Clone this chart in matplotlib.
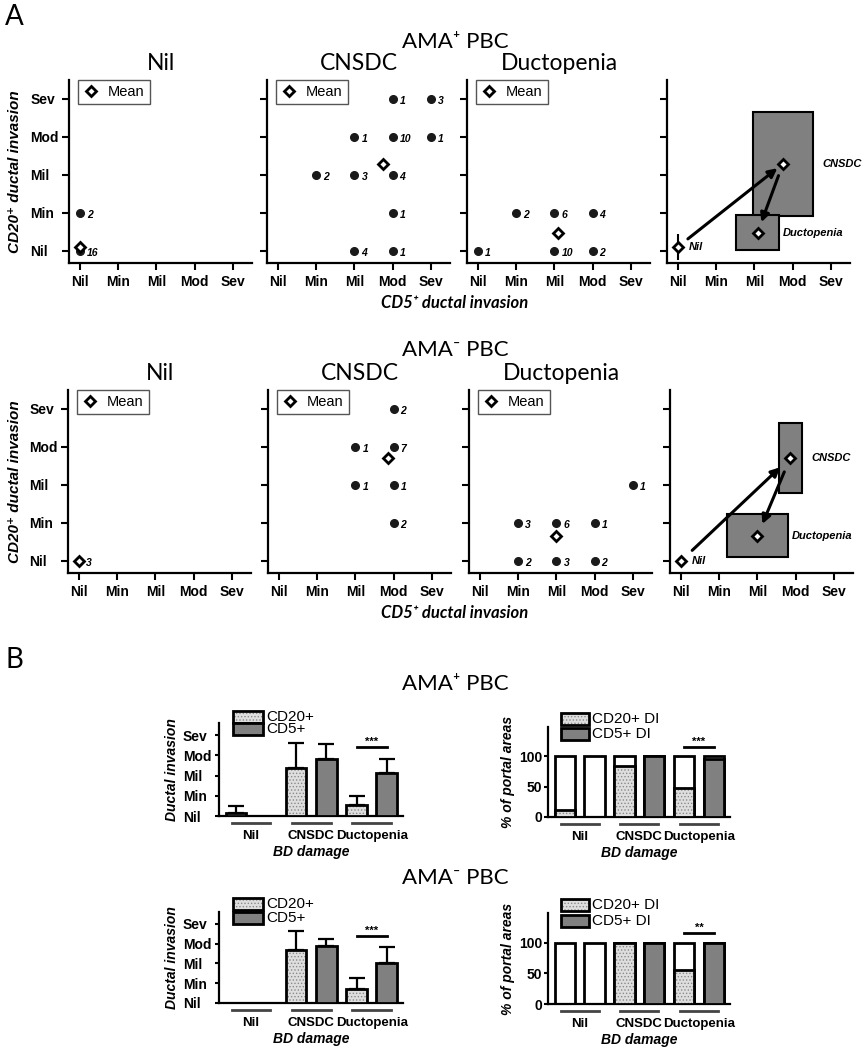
import numpy as np
import matplotlib.pyplot as plt
import matplotlib.transforms as mtransforms
from matplotlib.patches import Rectangle
from matplotlib.lines import Line2D

plt.rcParams['font.family'] = ['Liberation Sans', 'DejaVu Sans']
plt.rcParams['hatch.linewidth'] = 0.6
TITLE_FONT = ['Lato', 'DejaVu Sans']

levels = ['Nil', 'Min', 'Mil', 'Mod', 'Sev']
stages = ['Nil', 'CNSDC', 'Ductopenia']

# ---- A: CD5+ level (x), CD20+ level (y), number of portal areas ----
# AMA+ PBC
pos_nil_x = [0, 0]
pos_nil_y = [1, 0]
pos_nil_n = [2, 16]
pos_cnsdc_x = [3, 4, 2, 3, 4, 1, 2, 3, 3, 2, 3]
pos_cnsdc_y = [4, 4, 3, 3, 3, 2, 2, 2, 1, 0, 0]
pos_cnsdc_n = [1, 3, 1, 10, 1, 2, 3, 4, 1, 4, 1]
pos_duct_x = [0, 1, 2, 3, 2, 3]
pos_duct_y = [0, 1, 1, 1, 0, 0]
pos_duct_n = [1, 2, 6, 4, 10, 2]
# AMA- PBC
neg_nil_x = [0]
neg_nil_y = [0]
neg_nil_n = [3]
neg_cnsdc_x = [3, 2, 3, 2, 3, 3]
neg_cnsdc_y = [4, 3, 3, 2, 2, 1]
neg_cnsdc_n = [2, 1, 7, 1, 1, 2]
neg_duct_x = [4, 1, 2, 3, 1, 2, 3]
neg_duct_y = [2, 1, 1, 1, 0, 0, 0]
neg_duct_n = [1, 3, 6, 1, 2, 3, 2]

# SD of CD5+ (x) and CD20+ (y) per stage, summary panels
pos_sd_x = [0.0, 0.78, 0.56]
pos_sd_y = [0.34, 1.38, 0.46]
neg_sd_x = [0.0, 0.30, 0.79]
neg_sd_y = [0.0, 0.92, 0.56]

# ---- B: mean ductal invasion score (+SD) ----
pos_cd20_mean = [0.13, 2.38, 0.52]
pos_cd20_err = [0.34, 1.25, 0.48]
pos_cd5_mean = [0.0, 2.83, 2.13]
pos_cd5_err = [0.0, 0.75, 0.70]
neg_cd20_mean = [0.0, 2.70, 0.69]
neg_cd20_err = [0.0, 0.93, 0.56]
neg_cd5_mean = [0.0, 2.89, 2.00]
neg_cd5_err = [0.0, 0.33, 0.82]

# % of portal areas with ductal invasion
pos_cd20_pct = [11, 84, 47]
pos_cd5_pct = [0, 100, 95]
neg_cd20_pct = [0, 100, 55]
neg_cd5_pct = [0, 100, 100]

W, H = 867, 1050
fig = plt.figure(figsize=(W / 100, H / 100), dpi=100)

DARK = '#808080'
LIGHT = '#dedede'
DOTS = '#8a8a8a'


def add_ax(left, top, right, bottom):
    return fig.add_axes([left / W, 1 - bottom / H, (right - left) / W, (bottom - top) / H])


def fig_text(x, y, s, **kw):
    fig.text(x / W, 1 - y / H, s, **kw)


def style_axes(ax):
    for side in ['top', 'right']:
        ax.spines[side].set_visible(False)
    for side in ['left', 'bottom']:
        ax.spines[side].set_linewidth(1.6)


def weighted_mean(xs, ys, ns):
    ns = np.array(ns, dtype=float)
    return np.dot(xs, ns) / ns.sum(), np.dot(ys, ns) / ns.sum()


def level_axes(ax, show_ylabels):
    style_axes(ax)
    ax.set_xlim(-0.29, 4.5)
    ax.set_ylim(-0.32, 4.5)
    ax.set_xticks(range(5))
    ax.set_xticklabels(levels, fontweight='bold', fontsize=10)
    ax.set_yticks(range(5))
    if show_ylabels:
        ax.set_yticklabels(levels, fontweight='bold', fontsize=10, ha='left')
    else:
        ax.set_yticklabels([])
    ax.tick_params(axis='both', length=5, width=1.5, direction='out')
    ax.tick_params(axis='y', pad=23)
    ax.tick_params(axis='x', pad=4)


def mean_marker(ax, x, y):
    ax.plot([x], [y], 'D', ms=5.5, mfc='white', mec='k', mew=2, zorder=6)


def scatter_panel(ax, xs, ys, ns, show_ylabels):
    level_axes(ax, show_ylabels)
    ax.plot(xs, ys, 'o', ms=5.5, color='#1a1a1a', zorder=3)
    for x, y, n in zip(xs, ys, ns):
        ax.annotate(str(n), (x, y), xytext=(5, -1.5), textcoords='offset points',
                    fontsize=7.5, fontweight='bold', fontstyle='italic',
                    va='center', ha='left')
    mx, my = weighted_mean(xs, ys, ns)
    mean_marker(ax, mx, my)
    handle = Line2D([], [], ls='none', marker='D', ms=5.5, mfc='white', mec='k', mew=2)
    leg = ax.legend([handle], ['Mean'], loc='upper left', bbox_to_anchor=(0.05, 1.0),
                    borderaxespad=0, fancybox=False, edgecolor='#555555', fontsize=10.5,
                    handlelength=1.0, handletextpad=0.7, borderpad=0.35, framealpha=1)
    leg.get_frame().set_linewidth(1.0)


def summary_panel(ax, groups, sd_x, sd_y, shrinks):
    level_axes(ax, False)
    means = [weighted_mean(*g) for g in groups]
    for (mx, my), sx, sy in zip(means, sd_x, sd_y):
        if sx > 0 or sy > 0:
            ax.add_patch(Rectangle((mx - sx, my - sy), 2 * sx, 2 * sy, facecolor=DARK,
                                   edgecolor='k', lw=1.5, zorder=2))
    for i in range(2):
        ax.annotate('', xy=means[i + 1], xytext=means[i],
                    arrowprops=dict(arrowstyle='-|>', color='k', lw=2.2, mutation_scale=13,
                                    shrinkA=shrinks[i][0], shrinkB=shrinks[i][1]), zorder=4)
    for mx, my in means:
        mean_marker(ax, mx, my)
    kw = dict(textcoords='offset points', fontsize=8, fontweight='bold', fontstyle='italic',
              va='center', ha='left')
    ax.annotate('Nil', means[0], xytext=(8, 0), **kw)
    ax.annotate('CNSDC', (means[1][0] + sd_x[1], means[1][1]), xytext=(7, 0), **kw)
    ax.annotate('Ductopenia', (means[2][0] + sd_x[2], means[2][1]), xytext=(3, 0), **kw)


def row_a(top, bottom, lefts, data, sd_x, sd_y, shrinks, title, title_y, xlabel_y):
    names = ['Nil', 'CNSDC', 'Ductopenia']
    for i, (left, g, name) in enumerate(zip(lefts[:3], data, names)):
        ax = add_ax(left, top, left + 183, bottom)
        scatter_panel(ax, *g, show_ylabels=(i == 0))
        fig_text(left + 92, top - 17, name, ha='center', va='center', fontsize=16.5,
                 family=TITLE_FONT)
    ax = add_ax(lefts[3], top, lefts[3] + 183, bottom)
    summary_panel(ax, data, sd_x, sd_y, shrinks)
    fig_text(455, title_y, title, ha='center', va='center', fontsize=16, family=TITLE_FONT)
    fig_text(455, xlabel_y, 'CD5⁺ ductal invasion', ha='center', va='center', fontsize=12,
             fontweight='bold', fontstyle='italic', family=TITLE_FONT)
    fig_text(15, (top + bottom) / 2, 'CD20⁺ ductal invasion', ha='center', va='center',
             rotation=90, fontsize=11, fontweight='bold', fontstyle='italic')


def legend_swatch(x, y, w, label, hatched):
    box = (x / W, 1 - (y + 6) / H)
    if hatched:
        fig.add_artist(Rectangle(box, w / W, 12 / H, transform=fig.transFigure,
                                 facecolor=LIGHT, edgecolor=DOTS, lw=0, hatch='.....'))
        fig.add_artist(Rectangle(box, w / W, 12 / H, transform=fig.transFigure,
                                 fill=False, edgecolor='k', lw=2))
    else:
        fig.add_artist(Rectangle(box, w / W, 12 / H, transform=fig.transFigure,
                                 facecolor=DARK, edgecolor='k', lw=2))
    fig_text(x + w + 3, y, label, ha='left', va='center', fontsize=11)


def group_axis(ax, ylim, ylabel):
    style_axes(ax)
    ax.set_xlim(-0.53, 2.52)
    ax.set_ylim(0, ylim)
    x = np.arange(3)
    ax.set_xticks(x)
    ax.set_xticklabels(stages, fontweight='bold', fontsize=9.5)
    ax.tick_params(axis='x', length=0, pad=10)
    ax.tick_params(axis='y', length=3, width=1.5)
    trans = mtransforms.blended_transform_factory(ax.transData, ax.transAxes)
    for c in x:
        ax.plot([c - 0.32, c + 0.32], [-0.075, -0.075], transform=trans, color='#444444',
                lw=2, clip_on=False)
    ax.set_xlabel('BD damage', fontsize=10, fontweight='bold', fontstyle='italic', labelpad=2)
    ax.set_ylabel(ylabel, fontsize=10, fontweight='bold', fontstyle='italic', labelpad=3)


def sig(ax, y, stars):
    ax.plot([1.75, 2.25], [y, y], color='k', lw=2, clip_on=False)
    ax.text(2, y, stars, ha='center', va='bottom', fontsize=8, fontweight='bold')


def hatched_bars(ax, x, h, w, z):
    ax.bar(x, h, w, color=LIGHT, edgecolor=DOTS, lw=0, hatch='.....', zorder=z)
    ax.bar(x, h, w, fill=False, edgecolor='k', lw=2, zorder=z + 0.5)


def score_panel(ax, cd20, cd20_err, cd5, cd5_err, star_y):
    x = np.arange(3)
    w = 0.34
    group_axis(ax, 4.6, 'Ductal invasion')
    hatched_bars(ax, x - 0.25, cd20, w, 3)
    ax.bar(x + 0.25, cd5, w, color=DARK, edgecolor='k', lw=2, zorder=3)
    for off, m, e in [(-0.25, cd20, cd20_err), (0.25, cd5, cd5_err)]:
        keep = [i for i in range(3) if e[i] > 0]
        ax.errorbar(x[keep] + off, np.array(m)[keep],
                    yerr=[np.zeros(len(keep)), np.array(e)[keep]],
                    fmt='none', ecolor='k', elinewidth=1.6, capsize=6, capthick=1.6, zorder=2)
    ax.set_yticks(range(5))
    ax.set_yticklabels(levels, fontweight='bold', fontsize=10, ha='left')
    ax.tick_params(axis='y', pad=23)
    ax.yaxis.labelpad = 3
    sig(ax, star_y, '***')


def pct_panel(ax, cd20, cd5, stars):
    x = np.arange(3)
    w = 0.34
    group_axis(ax, 148, '% of portal areas')
    ax.bar(x - 0.25, [100] * 3, w, color='white', edgecolor='k', lw=2, zorder=2)
    ax.bar(x + 0.25, [100] * 3, w, color='white', edgecolor='k', lw=2, zorder=2)
    hatched_bars(ax, x - 0.25, cd20, w, 3)
    ax.bar(x + 0.25, cd5, w, color=DARK, edgecolor='k', lw=2, zorder=3)
    ax.set_yticks([0, 50, 100])
    ax.set_yticklabels(['0', '50', '100'], fontweight='bold', fontsize=10)
    ax.tick_params(axis='y', pad=1)
    sig(ax, 115, stars)


# ---------------- A ----------------
fig_text(14, 17, 'A', ha='center', va='center', fontsize=20, family=TITLE_FONT)
row_a(80, 263, [69, 267, 467, 667],
      [(pos_nil_x, pos_nil_y, pos_nil_n), (pos_cnsdc_x, pos_cnsdc_y, pos_cnsdc_n),
       (pos_duct_x, pos_duct_y, pos_duct_n)],
      pos_sd_x, pos_sd_y, [(9, 5), (9, 8)], 'AMA⁺ PBC', 42, 303)
row_a(390, 573, [68, 268, 469, 670],
      [(neg_nil_x, neg_nil_y, neg_nil_n), (neg_cnsdc_x, neg_cnsdc_y, neg_cnsdc_n),
       (neg_duct_x, neg_duct_y, neg_duct_n)],
      neg_sd_x, neg_sd_y, [(11, 10), (11, 9)], 'AMA⁻ PBC', 350, 613)

# ---------------- B ----------------
fig_text(14, 660, 'B', ha='center', va='center', fontsize=20, family=TITLE_FONT)
fig_text(455, 684, 'AMA⁺ PBC', ha='center', va='center', fontsize=16, family=TITLE_FONT)
fig_text(455, 878, 'AMA⁻ PBC', ha='center', va='center', fontsize=16, family=TITLE_FONT)

ax = add_ax(219, 723, 403, 816)
score_panel(ax, pos_cd20_mean, pos_cd20_err, pos_cd5_mean, pos_cd5_err, 3.4)
legend_swatch(233, 717, 30, 'CD20+', True)
legend_swatch(233, 729, 30, 'CD5+', False)

ax = add_ax(548, 727, 730, 817)
pct_panel(ax, pos_cd20_pct, pos_cd5_pct, '***')
legend_swatch(561, 719, 28, 'CD20+ DI', True)
legend_swatch(561, 734, 28, 'CD5+ DI', False)

ax = add_ax(219, 912, 403, 1003)
score_panel(ax, neg_cd20_mean, neg_cd20_err, neg_cd5_mean, neg_cd5_err, 3.38)
legend_swatch(233, 904, 30, 'CD20+', True)
legend_swatch(233, 918, 30, 'CD5+', False)

ax = add_ax(548, 913, 730, 1004)
pct_panel(ax, neg_cd20_pct, neg_cd5_pct, '**')
legend_swatch(561, 905, 28, 'CD20+ DI', True)
legend_swatch(561, 921, 28, 'CD5+ DI', False)

fig.savefig('out.png', dpi=100)
